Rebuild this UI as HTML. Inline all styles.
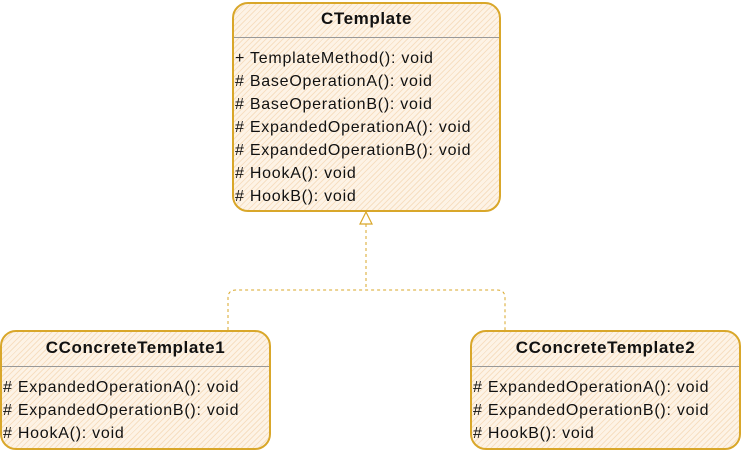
<!DOCTYPE html>
<html><head><style>
body{margin:0;width:741px;height:451px;background:#fff;position:relative;overflow:hidden;font-family:"Liberation Sans",sans-serif;}
.box{position:absolute;border:2px solid #d9a72a;border-radius:16px;box-sizing:border-box;
background:repeating-linear-gradient(135deg,#fdf3e6 0 3px,#f7dfc2 3px 4px);}
.t{font-weight:bold;text-align:center;font-size:17px;color:#111;letter-spacing:0.6px;}
.hd{position:absolute;left:0;right:0;border-top:1px solid #999;}
.m{position:absolute;left:1px;font-size:16px;color:#111;line-height:23px;white-space:nowrap;letter-spacing:0.75px;}
</style></head><body>
<svg width="741" height="451" style="position:absolute;left:0;top:0">
<g fill="none" stroke="#d9a72a" stroke-width="1" stroke-dasharray="3,3">
<path d="M366 224 V290 M228 330 V298 Q228 290 236 290 H497 Q505 290 505 298 V330"/>
</g>
<path d="M360 224 L366 212 L372 224 Z" fill="#fff" stroke="#d9a72a" stroke-width="1.2"/>
</svg>
<div class="box" style="left:232px;top:2px;width:269px;height:210px">
<div class="t" style="position:absolute;top:5px;left:0;right:0">CTemplate</div>
<div class="hd" style="top:33px"></div>
<div class="m" style="top:43px">+ TemplateMethod(): void<br># BaseOperationA(): void<br># BaseOperationB(): void<br># ExpandedOperationA(): void<br># ExpandedOperationB(): void<br># HookA(): void<br># HookB(): void</div>
</div>
<div class="box" style="left:0px;top:330px;width:271px;height:120px">
<div class="t" style="position:absolute;top:6px;left:0;right:0">CConcreteTemplate1</div>
<div class="hd" style="top:34px"></div>
<div class="m" style="top:44px"># ExpandedOperationA(): void<br># ExpandedOperationB(): void<br># HookA(): void</div>
</div>
<div class="box" style="left:470px;top:330px;width:271px;height:120px">
<div class="t" style="position:absolute;top:6px;left:0;right:0">CConcreteTemplate2</div>
<div class="hd" style="top:34px"></div>
<div class="m" style="top:44px"># ExpandedOperationA(): void<br># ExpandedOperationB(): void<br># HookB(): void</div>
</div>
</body></html>
